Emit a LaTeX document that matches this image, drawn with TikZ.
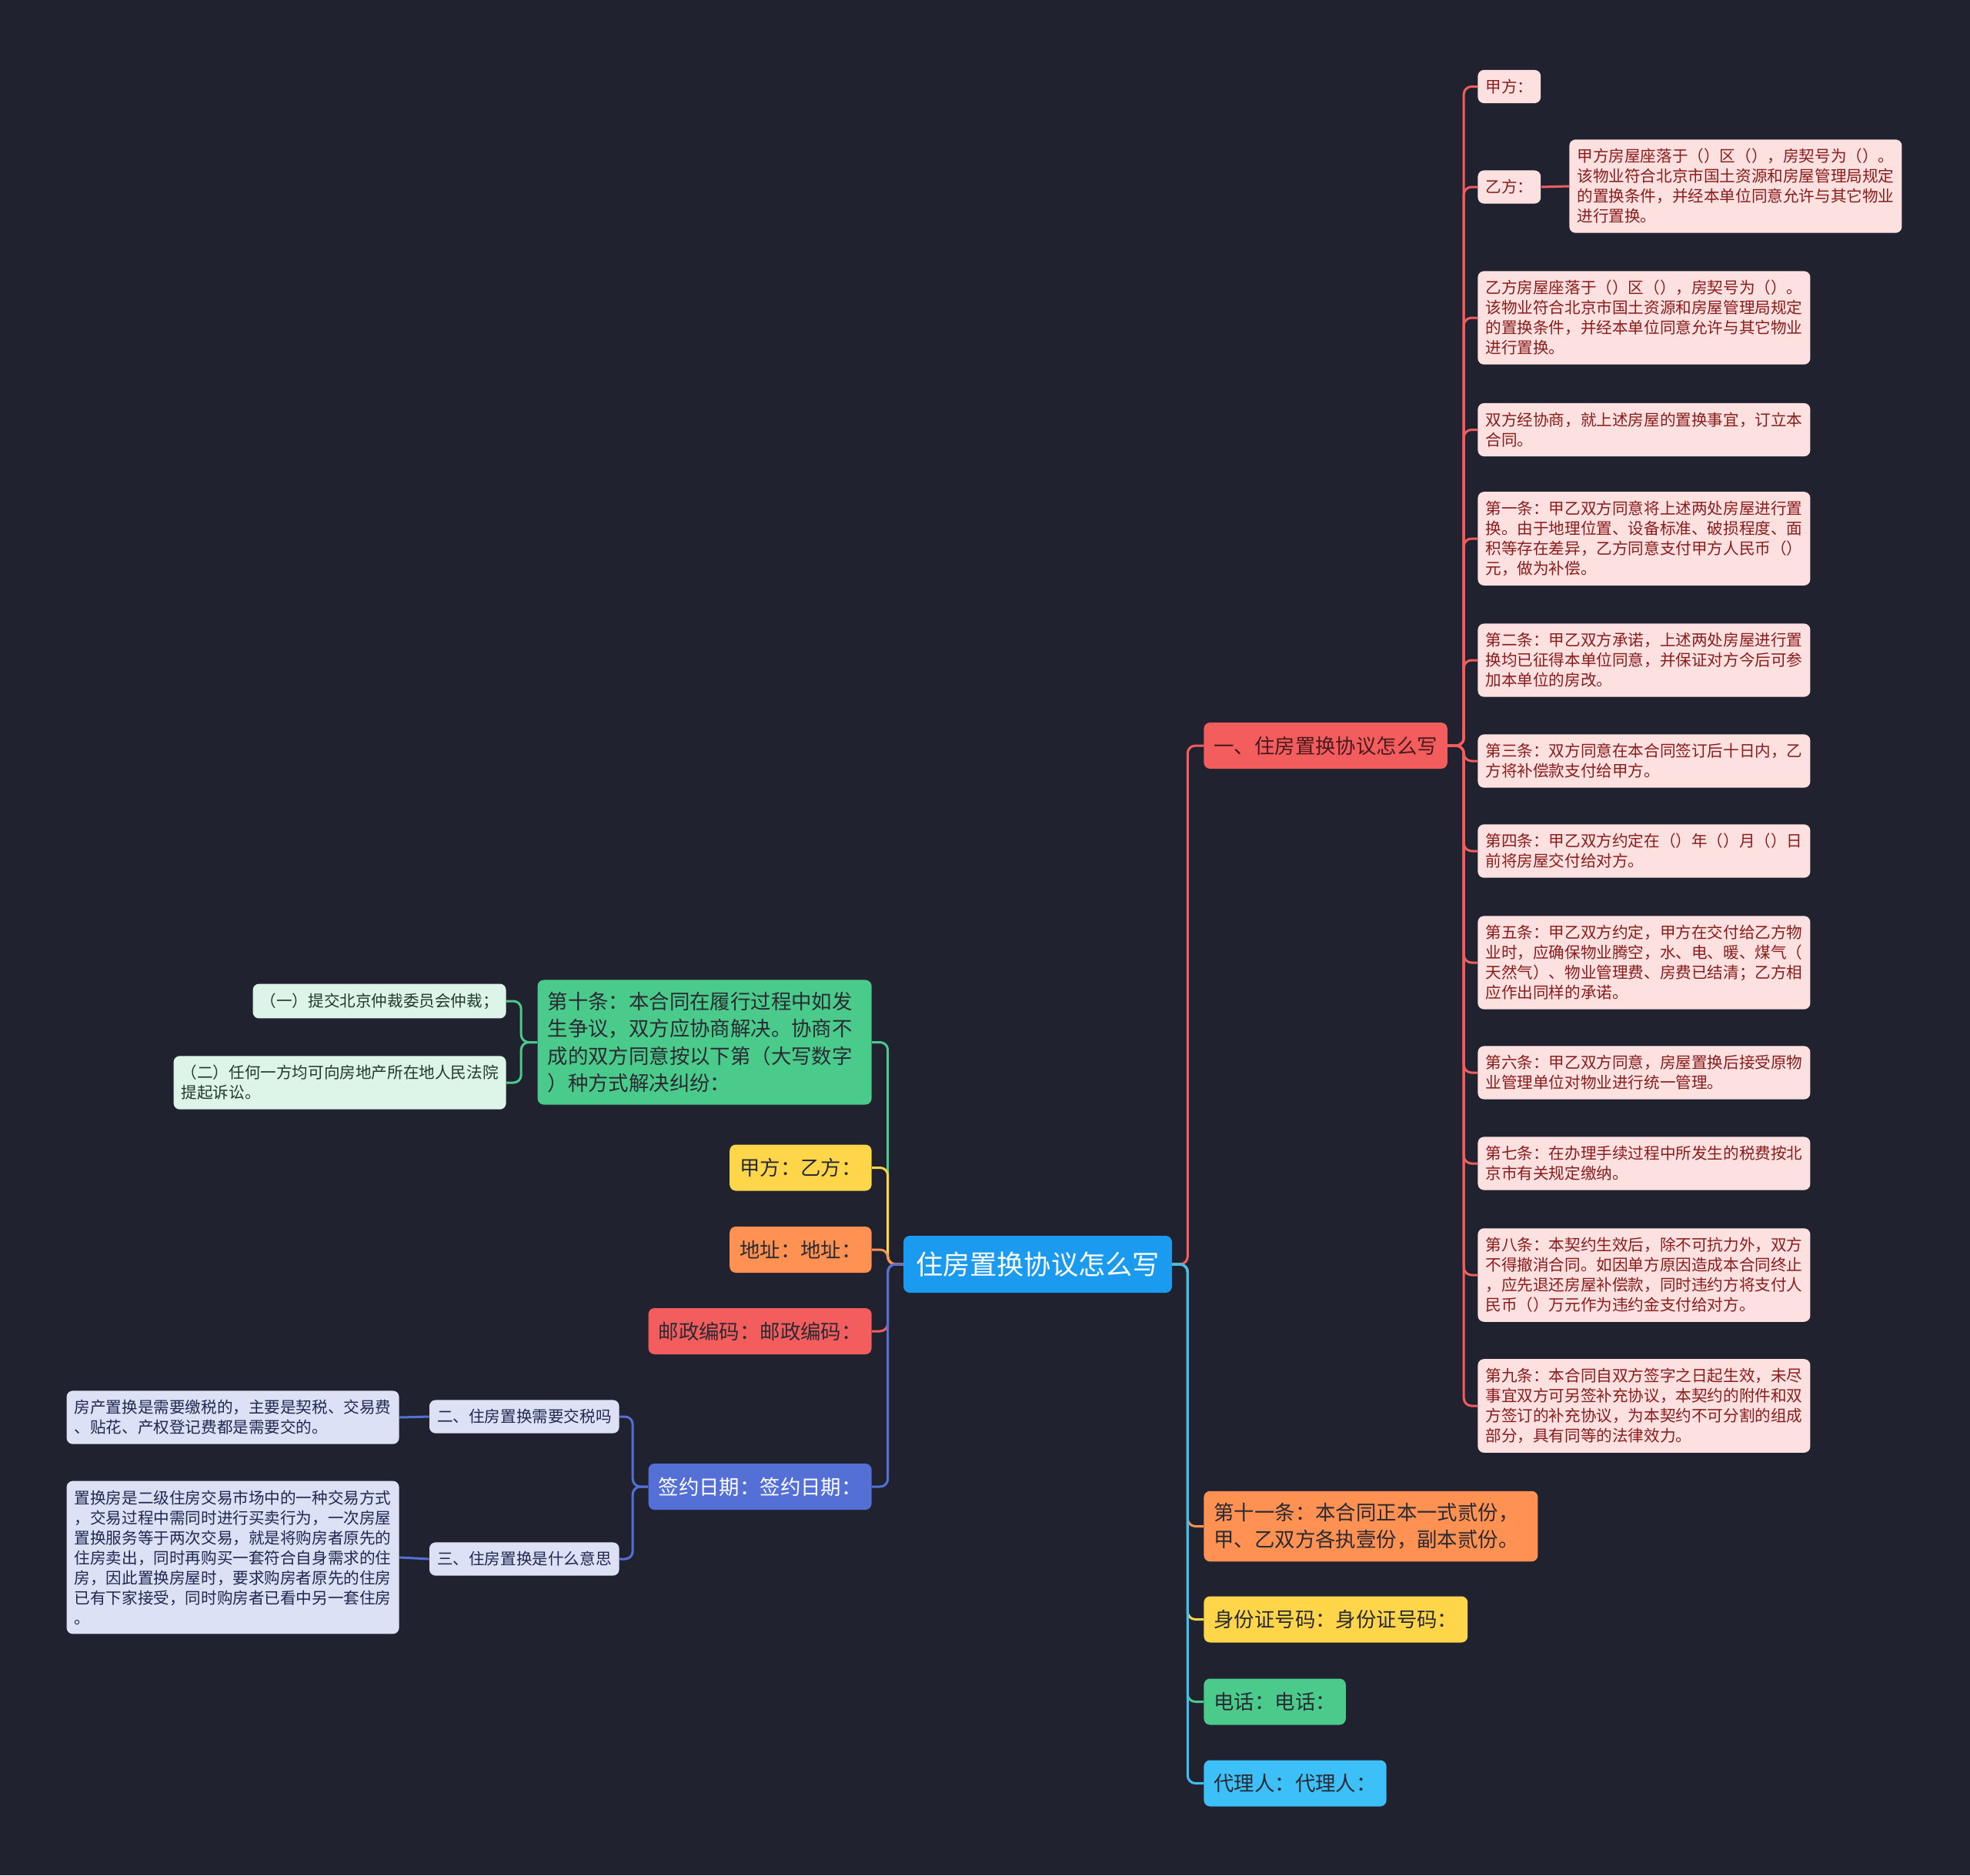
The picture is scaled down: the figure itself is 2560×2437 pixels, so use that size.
\documentclass[tikz,border=0pt]{standalone}
\usepackage{fontspec}
\newfontfamily\cjk{Noto Sans CJK SC}
\usepackage{xcolor}
\usepackage{tikz}
\usetikzlibrary{positioning}
\definecolor{mmbg}{HTML}{20232F}
\definecolor{mmink}{HTML}{2A2A33}
\definecolor{mmmaroon}{HTML}{4A1A1E}
\definecolor{mmblue}{HTML}{1A9BEF}
\definecolor{mmred}{HTML}{F35D5D}
\definecolor{mmorange}{HTML}{FF9152}
\definecolor{mmyellow}{HTML}{FFD64A}
\definecolor{mmgreen}{HTML}{4BCB8B}
\definecolor{mmsky}{HTML}{3DBFF7}
\definecolor{mmindigo}{HTML}{5470D6}
\definecolor{pinkfill}{HTML}{FDE1E1}
\definecolor{pinkink}{HTML}{8A1C1C}
\definecolor{mintfill}{HTML}{DDF5E8}
\definecolor{mintink}{HTML}{1D3B2B}
\definecolor{lavfill}{HTML}{DDE1F5}
\definecolor{lavink}{HTML}{1F2850}
\tikzset{
  hub/.style={rectangle,rounded corners=4pt,fill=mmblue,text=white,
              font=\cjk\fontsize{17.6}{21}\selectfont,inner xsep=8pt,inner ysep=10.3pt},
  topic/.style={rectangle,rounded corners=4pt,text=mmink,align=left,
                font=\cjk\fontsize{13.2}{17.7}\selectfont,inner xsep=6.5pt,inner ysep=7.75pt,
                minimum height=30pt},
  wide/.style={topic,text width=204pt},
  leaf/.style={rectangle,rounded corners=4pt,align=left,
               font=\cjk\fontsize{10.3}{13}\selectfont,inner xsep=5pt,inner ysep=6pt,
               minimum height=21.5pt},
  leafw/.style={leaf,text width=206pt},
  pink/.style={fill=pinkfill,text=pinkink},
  mint/.style={fill=mintfill,text=mintink},
  lav/.style={fill=lavfill,text=lavink},
  link/.style={line width=1.5pt,rounded corners=5pt},
}
\begin{document}
\begin{tikzpicture}[x=0.5pt,y=-0.5pt]
  \fill[mmbg] (0,0) rectangle (2560,2437);
  \useasboundingbox (0,0) rectangle (2560,2437);

  \node[hub] (root) at (1348.5,1643) {住房置换协议怎么写};

  % right side
  \node[topic,fill=mmred,text=mmmaroon,anchor=west] (r1) at (1564,969) {一、住房置换协议怎么写};
  \node[wide,fill=mmorange,anchor=west] (r2) at (1564,1983.5) {第十一条：本合同正本一式贰份，\\甲、乙双方各执壹份，副本贰份。};
  \node[topic,fill=mmyellow,anchor=west] (r3) at (1564,2104.5) {身份证号码：身份证号码：};
  \node[topic,fill=mmgreen,anchor=west] (r4) at (1564,2211.5) {电话：电话：};
  \node[topic,fill=mmsky,anchor=west] (r5) at (1564,2317.5) {代理人：代理人：};

  \node[leaf,pink,anchor=west] (a1) at (1920,112.5) {甲方：};
  \node[leaf,pink,anchor=west] (a2) at (1920,243) {乙方：};
  \node[leafw,pink,anchor=west] (a2x) at (2039,242) {甲方房屋座落于（）区（），房契号为（）。\\该物业符合北京市国土资源和房屋管理局规定\\的置换条件，并经本单位同意允许与其它物业\\进行置换。};
  \node[leafw,pink,anchor=west] (a3) at (1920,413) {乙方房屋座落于（）区（），房契号为（）。\\该物业符合北京市国土资源和房屋管理局规定\\的置换条件，并经本单位同意允许与其它物业\\进行置换。};
  \node[leafw,pink,anchor=west] (a4) at (1920,558.5) {双方经协商，就上述房屋的置换事宜，订立本\\合同。};
  \node[leafw,pink,anchor=west] (a5) at (1920,700) {第一条：甲乙双方同意将上述两处房屋进行置\\换。由于地理位置、设备标准、破损程度、面\\积等存在差异，乙方同意支付甲方人民币（）\\元，做为补偿。};
  \node[leafw,pink,anchor=west] (a6) at (1920,858) {第二条：甲乙双方承诺，上述两处房屋进行置\\换均已征得本单位同意，并保证对方今后可参\\加本单位的房改。};
  \node[leafw,pink,anchor=west] (a7) at (1920,989) {第三条：双方同意在本合同签订后十日内，乙\\方将补偿款支付给甲方。};
  \node[leafw,pink,anchor=west] (a8) at (1920,1106) {第四条：甲乙双方约定在（）年（）月（）日\\前将房屋交付给对方。};
  \node[leafw,pink,anchor=west] (a9) at (1920,1251) {第五条：甲乙双方约定，甲方在交付给乙方物\\业时，应确保物业腾空，水、电、暖、煤气（\\天然气）、物业管理费、房费已结清；乙方相\\应作出同样的承诺。};
  \node[leafw,pink,anchor=west] (a10) at (1920,1394) {第六条：甲乙双方同意，房屋置换后接受原物\\业管理单位对物业进行统一管理。};
  \node[leafw,pink,anchor=west] (a11) at (1920,1512) {第七条：在办理手续过程中所发生的税费按北\\京市有关规定缴纳。};
  \node[leafw,pink,anchor=west] (a12) at (1920,1657) {第八条：本契约生效后，除不可抗力外，双方\\不得撤消合同。如因单方原因造成本合同终止\\，应先退还房屋补偿款，同时违约方将支付人\\民币（）万元作为违约金支付给对方。};
  \node[leafw,pink,anchor=west] (a13) at (1920,1827) {第九条：本合同自双方签字之日起生效，未尽\\事宜双方可另签补充协议，本契约的附件和双\\方签订的补充协议，为本契约不可分割的组成\\部分，具有同等的法律效力。};

  % left side
  \node[wide,fill=mmgreen,anchor=east] (l1) at (1133,1354.5) {第十条：本合同在履行过程中如发\\生争议，双方应协商解决。协商不\\成的双方同意按以下第（大写数字\\）种方式解决纠纷：};
  \node[topic,fill=mmyellow,anchor=east] (l2) at (1133,1517.5) {甲方：乙方：};
  \node[topic,fill=mmorange,anchor=east] (l3) at (1133,1624) {地址：地址：};
  \node[topic,fill=mmred,anchor=east] (l4) at (1133,1730) {邮政编码：邮政编码：};
  \node[topic,fill=mmindigo,text=white,anchor=east] (l5) at (1133,1932) {签约日期：签约日期：};

  \node[leaf,mint,anchor=east] (b1) at (658,1301) {（一）提交北京仲裁委员会仲裁；};
  \node[leafw,mint,anchor=east] (b2) at (658,1407) {（二）任何一方均可向房地产所在地人民法院\\提起诉讼。};

  \node[leaf,lav,anchor=east] (c1) at (805,1841) {二、住房置换需要交税吗};
  \node[leaf,lav,anchor=east] (c2) at (805,2026) {三、住房置换是什么意思};
  \node[leafw,lav,anchor=east] (c1x) at (519,1842) {房产置换是需要缴税的，主要是契税、交易费\\、贴花、产权登记费都是需要交的。};
  \node[leafw,lav,anchor=east] (c2x) at (519,2024) {置换房是二级住房交易市场中的一种交易方式\\，交易过程中需同时进行买卖行为，一次房屋\\置换服务等于两次交易，就是将购房者原先的\\住房卖出，同时再购买一套符合自身需求的住\\房，因此置换房屋时，要求购房者原先的住房\\已有下家接受，同时购房者已看中另一套住房\\。};

  \draw[link,mmred] (root.east) -- ++(20,0) |- (r1.west);
  \draw[link,mmorange] (root.east) -- ++(20,0) |- (r2.west);
  \draw[link,mmyellow] (root.east) -- ++(20,0) |- (r3.west);
  \draw[link,mmgreen] (root.east) -- ++(20,0) |- (r4.west);
  \draw[link,mmsky] (root.east) -- ++(20,0) |- (r5.west);
  \foreach \k in {a1,a2,a3,a4,a5,a6,a7,a8,a9,a10,a11,a12,a13}
    \draw[link,mmred] (r1.east) -- ++(21,0) |- (\k.west);
  \draw[link,mmred] (a2.east) -- (a2x.west);

  \draw[link,mmgreen] (root.west) -- ++(-20,0) |- (l1.east);
  \draw[link,mmyellow] (root.west) -- ++(-20,0) |- (l2.east);
  \draw[link,mmorange] (root.west) -- ++(-20,0) |- (l3.east);
  \draw[link,mmred] (root.west) -- ++(-20,0) |- (l4.east);
  \draw[link,mmindigo] (root.west) -- ++(-20,0) |- (l5.east);
  \foreach \k in {b1,b2}
    \draw[link,mmgreen] (l1.west) -- ++(-21,0) |- (\k.east);
  \foreach \k in {c1,c2}
    \draw[link,mmindigo] (l5.west) -- ++(-20,0) |- (\k.east);
  \draw[link,mmindigo] (c1.west) -- (c1x.east);
  \draw[link,mmindigo] (c2.west) -- (c2x.east);
\end{tikzpicture}
\end{document}
